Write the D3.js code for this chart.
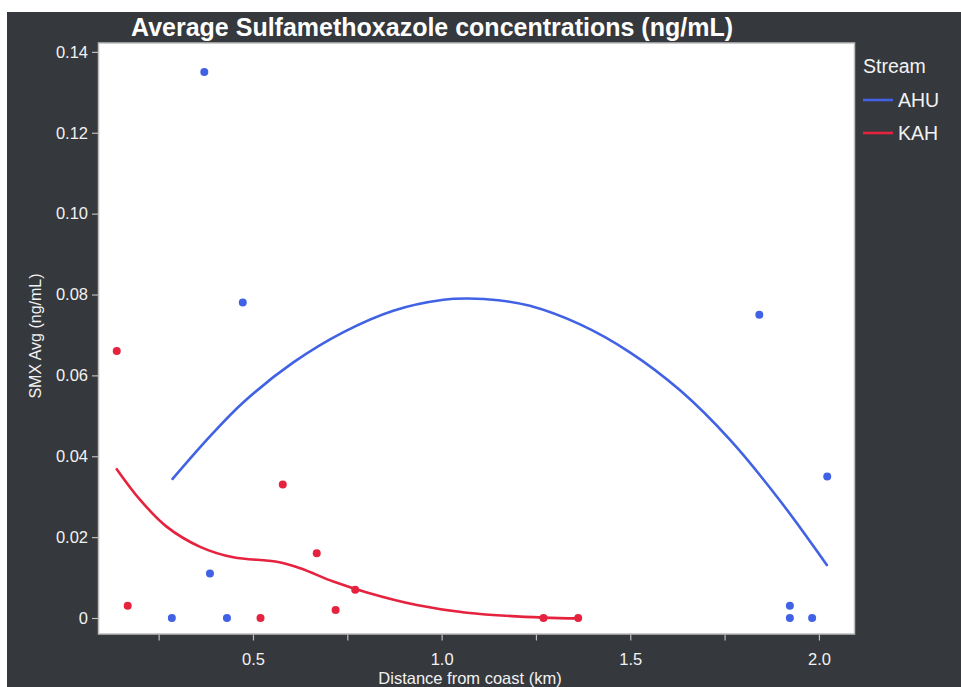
<!DOCTYPE html>
<html>
<head>
<meta charset="utf-8">
<script src="https://cdn.jsdelivr.net/npm/d3@7"></script>
<style>
  html, body { margin: 0; padding: 0; background: #ffffff; }
  svg { display: block; }
  text { font-family: "Liberation Sans", Arial, Helvetica, sans-serif; }
</style>
</head>
<body>
<svg id="chart" width="961" height="687"></svg>
<script>
// Observations: distance from coast (km) and average SMX (ng/mL)
const ahuDistance = [0.371, 0.473, 0.386, 0.285, 0.431, 1.842, 2.022, 1.923, 1.923, 1.982];
const ahuSmx      = [0.135, 0.078, 0.011, 0.000, 0.000, 0.075, 0.035, 0.003, 0.000, 0.000];
const kahDistance = [0.139, 0.168, 0.520, 0.579, 0.669, 0.719, 0.771, 1.270, 1.362];
const kahSmx      = [0.066, 0.003, 0.000, 0.033, 0.016, 0.002, 0.007, 0.000, 0.000];

// Smoothed trend for each stream (fitted values along distance)
const ahuFitDistance = [0.287, 0.386, 0.474, 0.607, 0.740, 0.872, 1.005, 1.070, 1.150, 1.234, 1.367, 1.499, 1.632, 1.764, 1.897, 2.021];
const ahuFitSmx      = [0.0344, 0.0449, 0.0533, 0.0632, 0.0707, 0.0760, 0.0787, 0.0790, 0.0786, 0.0772, 0.0726, 0.0657, 0.0563, 0.0441, 0.0290, 0.0131];
const kahFitDistance = [0.139, 0.201, 0.271, 0.360, 0.448, 0.563, 0.625, 0.713, 0.802, 0.934, 1.067, 1.270, 1.362];
const kahFitSmx      = [0.0368, 0.0292, 0.0226, 0.0176, 0.0150, 0.0139, 0.0123, 0.0090, 0.0063, 0.0032, 0.0013, 0.0001, -0.0001];

const streams = ["AHU", "KAH"];
const streamColors = ["#4162e4", "#e6233f"];
const yTicks = [0, 0.02, 0.04, 0.06, 0.08, 0.10, 0.12, 0.14];
const xTicks = [0.25, 0.5, 0.75, 1.0, 1.25, 1.5, 1.75, 2.0];

const svg = d3.select("#chart");
const W = 961, H = 687;
const plot = { left: 98.5, right: 854.5, top: 43, bottom: 634 };
const ink = "#f2f2f2";

// Dark panel behind everything
svg.append("rect").attr("x", 7).attr("y", 12).attr("width", W - 7).attr("height", H - 12)
  .attr("fill", "#35383d");

const x = d3.scaleLinear().domain([0.0906, 2.0943]).range([plot.left, plot.right]);
const y = d3.scaleLinear().domain([-0.00396, 0.1422]).range([plot.bottom, plot.top]);
const color = d3.scaleOrdinal().domain(streams).range(streamColors);

// Plot background
svg.append("rect")
  .attr("x", plot.left).attr("y", plot.top)
  .attr("width", plot.right - plot.left).attr("height", plot.bottom - plot.top)
  .attr("fill", "#ffffff").attr("stroke", "#bdbdbd").attr("stroke-width", 1.5);

// Axes
const yAxis = d3.axisLeft(y).tickValues(yTicks).tickSize(6).tickPadding(4)
  .tickFormat(d => d === 0 ? "0" : d3.format(".2f")(d));
const gy = svg.append("g").attr("transform", `translate(${plot.left - 0.5},0)`).call(yAxis);
gy.select(".domain").remove();
gy.selectAll(".tick line").attr("stroke", "#bdbdbd").attr("stroke-width", 1.2);
gy.selectAll(".tick text").attr("fill", ink).attr("font-size", 16.5)
  .attr("font-family", "'Liberation Sans', Arial, sans-serif");

const xAxis = d3.axisBottom(x).tickValues(xTicks).tickSize(6).tickPadding(13)
  .tickFormat(d => Math.abs(d * 2 - Math.round(d * 2)) < 1e-9 ? d3.format(".1f")(d) : "");
const gx = svg.append("g").attr("transform", `translate(0,${plot.bottom + 0.5})`).call(xAxis);
gx.select(".domain").remove();
gx.selectAll(".tick line").attr("stroke", "#bdbdbd").attr("stroke-width", 1.2);
gx.selectAll(".tick text").attr("fill", ink).attr("font-size", 16.5)
  .attr("font-family", "'Liberation Sans', Arial, sans-serif");

// Axis titles
svg.append("text").attr("x", 470).attr("y", 684)
  .attr("text-anchor", "middle").attr("fill", ink).attr("font-size", 16.5)
  .text("Distance from coast (km)");
svg.append("text")
  .attr("transform", `translate(41,336) rotate(-90)`)
  .attr("text-anchor", "middle").attr("fill", ink).attr("font-size", 16)
  .text("SMX Avg (ng/mL)");

// Title
svg.append("text").attr("x", 432).attr("y", 36).attr("text-anchor", "middle")
  .attr("fill", "#ffffff").attr("font-size", 25).attr("font-weight", "bold")
  .text("Average Sulfamethoxazole concentrations (ng/mL)");

// Fitted curves
const fits = [
  { stream: "AHU", pts: ahuFitDistance.map((d, i) => [d, ahuFitSmx[i]]) },
  { stream: "KAH", pts: kahFitDistance.map((d, i) => [d, kahFitSmx[i]]) }
];
const line = d3.line().x(d => x(d[0])).y(d => y(d[1])).curve(d3.curveCatmullRom.alpha(0.5));
svg.append("g").selectAll("path").data(fits).join("path")
  .attr("d", d => line(d.pts))
  .attr("fill", "none").attr("stroke", d => color(d.stream))
  .attr("stroke-width", 2.6).attr("stroke-linecap", "round");

// Observation points
const points = [
  ...ahuDistance.map((d, i) => ({ stream: "AHU", dist: d, smx: ahuSmx[i] })),
  ...kahDistance.map((d, i) => ({ stream: "KAH", dist: d, smx: kahSmx[i] }))
];
svg.append("g").selectAll("circle").data(points).join("circle")
  .attr("cx", d => x(d.dist)).attr("cy", d => y(d.smx)).attr("r", 4)
  .attr("fill", d => color(d.stream));

// Legend
const legend = svg.append("g").attr("transform", "translate(863,0)");
legend.append("text").attr("x", 0).attr("y", 73).attr("fill", ink)
  .attr("font-size", 19.5).text("Stream");
const items = legend.selectAll("g.item").data(streams).join("g")
  .attr("class", "item")
  .attr("transform", (d, i) => `translate(0,${100 + i * 33})`);
items.append("line").attr("x1", 0).attr("x2", 30).attr("y1", 0).attr("y2", 0)
  .attr("stroke", d => color(d)).attr("stroke-width", 2.6);
items.append("text").attr("x", 35).attr("y", 7).attr("fill", ink)
  .attr("font-size", 19.5).text(d => d);
</script>
</body>
</html>
